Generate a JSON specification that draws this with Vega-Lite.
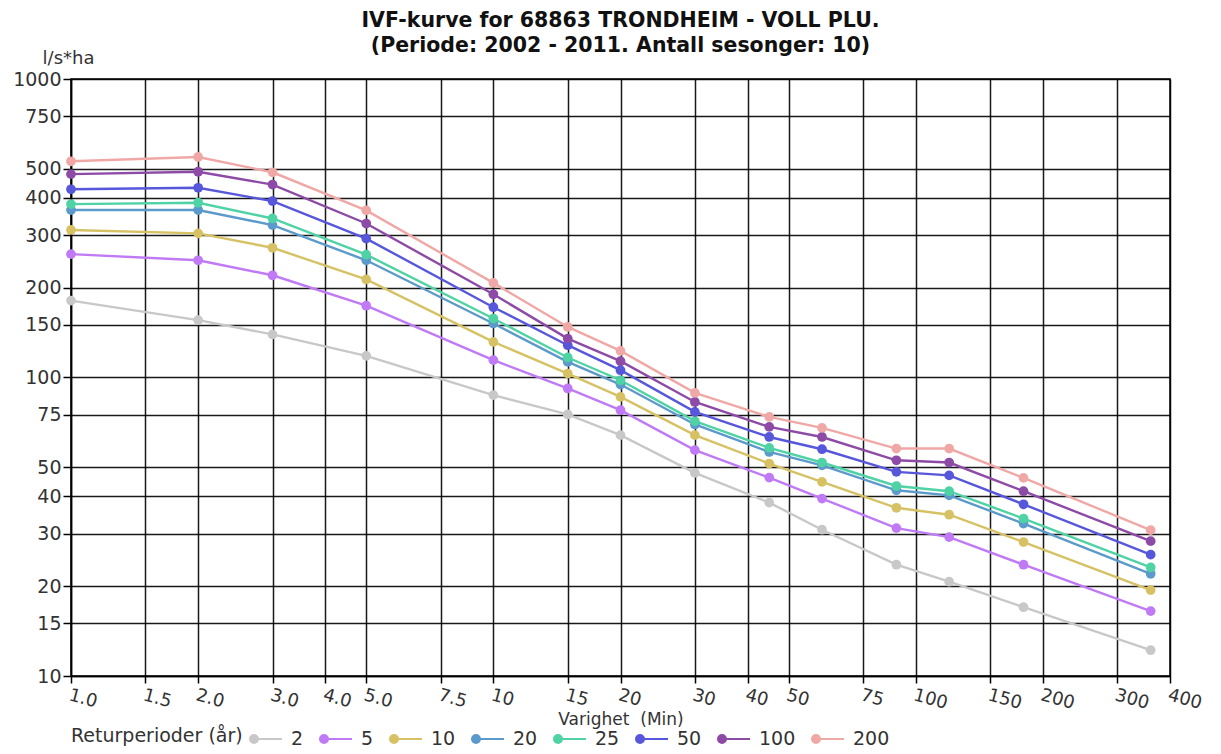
{
  "$schema": "https://vega.github.io/schema/vega-lite/v6.json",
  "width": 1099,
  "height": 597,
  "autosize": {"type": "none"},
  "padding": {"left": 71, "top": 79, "right": 51, "bottom": 78},
  "background": "white",
  "config": {"font": "DejaVu Sans", "view": {"stroke": "black", "strokeWidth": 1.5}},
  "title": {
    "text": ["IVF-kurve for 68863 TRONDHEIM - VOLL PLU.", "(Periode: 2002 - 2011. Antall sesonger: 10)"],
    "fontSize": 20.5, "fontWeight": "bold", "color": "#111", "lineHeight": 25, "anchor": "middle", "offset": 22, "dy": 29
  },
  "datasets": {
    "ivf": [
      {"d": 1, "rp": "2", "v": 181}, {"d": 2, "rp": "2", "v": 155.6}, {"d": 3, "rp": "2", "v": 139.4}, {"d": 5, "rp": "2", "v": 118.2}, {"d": 10, "rp": "2", "v": 87.3}, {"d": 15, "rp": "2", "v": 75.2}, {"d": 20, "rp": "2", "v": 64.1}, {"d": 30, "rp": "2", "v": 47.9}, {"d": 45, "rp": "2", "v": 38.1}, {"d": 60, "rp": "2", "v": 30.9}, {"d": 90, "rp": "2", "v": 23.6}, {"d": 120, "rp": "2", "v": 20.7}, {"d": 180, "rp": "2", "v": 17.0}, {"d": 360, "rp": "2", "v": 12.2},
      {"d": 1, "rp": "5", "v": 259}, {"d": 2, "rp": "5", "v": 247}, {"d": 3, "rp": "5", "v": 220}, {"d": 5, "rp": "5", "v": 174}, {"d": 10, "rp": "5", "v": 114.3}, {"d": 15, "rp": "5", "v": 91.9}, {"d": 20, "rp": "5", "v": 77.7}, {"d": 30, "rp": "5", "v": 57.1}, {"d": 45, "rp": "5", "v": 46.2}, {"d": 60, "rp": "5", "v": 39.3}, {"d": 90, "rp": "5", "v": 31.3}, {"d": 120, "rp": "5", "v": 29.2}, {"d": 180, "rp": "5", "v": 23.6}, {"d": 360, "rp": "5", "v": 16.5},
      {"d": 1, "rp": "10", "v": 312}, {"d": 2, "rp": "10", "v": 304}, {"d": 3, "rp": "10", "v": 272}, {"d": 5, "rp": "10", "v": 213}, {"d": 10, "rp": "10", "v": 131.6}, {"d": 15, "rp": "10", "v": 103.1}, {"d": 20, "rp": "10", "v": 86.1}, {"d": 30, "rp": "10", "v": 64.1}, {"d": 45, "rp": "10", "v": 51.5}, {"d": 60, "rp": "10", "v": 44.7}, {"d": 90, "rp": "10", "v": 36.6}, {"d": 120, "rp": "10", "v": 34.7}, {"d": 180, "rp": "10", "v": 28.1}, {"d": 360, "rp": "10", "v": 19.4},
      {"d": 1, "rp": "20", "v": 364}, {"d": 2, "rp": "20", "v": 364}, {"d": 3, "rp": "20", "v": 324}, {"d": 5, "rp": "20", "v": 247}, {"d": 10, "rp": "20", "v": 151.7}, {"d": 15, "rp": "20", "v": 112.8}, {"d": 20, "rp": "20", "v": 94.7}, {"d": 30, "rp": "20", "v": 69.6}, {"d": 45, "rp": "20", "v": 56.3}, {"d": 60, "rp": "20", "v": 50.8}, {"d": 90, "rp": "20", "v": 41.9}, {"d": 120, "rp": "20", "v": 40.3}, {"d": 180, "rp": "20", "v": 32.4}, {"d": 360, "rp": "20", "v": 22.0},
      {"d": 1, "rp": "25", "v": 381}, {"d": 2, "rp": "25", "v": 385}, {"d": 3, "rp": "25", "v": 341}, {"d": 5, "rp": "25", "v": 258}, {"d": 10, "rp": "25", "v": 157.6}, {"d": 15, "rp": "25", "v": 116.7}, {"d": 20, "rp": "25", "v": 97.9}, {"d": 30, "rp": "25", "v": 71.4}, {"d": 45, "rp": "25", "v": 58.1}, {"d": 60, "rp": "25", "v": 51.9}, {"d": 90, "rp": "25", "v": 43.3}, {"d": 120, "rp": "25", "v": 41.6}, {"d": 180, "rp": "25", "v": 33.7}, {"d": 360, "rp": "25", "v": 23.1},
      {"d": 1, "rp": "50", "v": 427}, {"d": 2, "rp": "50", "v": 432}, {"d": 3, "rp": "50", "v": 390}, {"d": 5, "rp": "50", "v": 292}, {"d": 10, "rp": "50", "v": 172}, {"d": 15, "rp": "50", "v": 128.3}, {"d": 20, "rp": "50", "v": 105.8}, {"d": 30, "rp": "50", "v": 76.7}, {"d": 45, "rp": "50", "v": 63.2}, {"d": 60, "rp": "50", "v": 57.5}, {"d": 90, "rp": "50", "v": 48.3}, {"d": 120, "rp": "50", "v": 47.0}, {"d": 180, "rp": "50", "v": 37.6}, {"d": 360, "rp": "50", "v": 25.5},
      {"d": 1, "rp": "100", "v": 480}, {"d": 2, "rp": "100", "v": 489}, {"d": 3, "rp": "100", "v": 443}, {"d": 5, "rp": "100", "v": 328}, {"d": 10, "rp": "100", "v": 190}, {"d": 15, "rp": "100", "v": 135}, {"d": 20, "rp": "100", "v": 113.4}, {"d": 30, "rp": "100", "v": 82.8}, {"d": 45, "rp": "100", "v": 68.3}, {"d": 60, "rp": "100", "v": 63.2}, {"d": 90, "rp": "100", "v": 52.8}, {"d": 120, "rp": "100", "v": 51.9}, {"d": 180, "rp": "100", "v": 41.6}, {"d": 360, "rp": "100", "v": 28.3},
      {"d": 1, "rp": "200", "v": 530}, {"d": 2, "rp": "200", "v": 548}, {"d": 3, "rp": "200", "v": 487}, {"d": 5, "rp": "200", "v": 363}, {"d": 10, "rp": "200", "v": 207.5}, {"d": 15, "rp": "200", "v": 147.7}, {"d": 20, "rp": "200", "v": 122.8}, {"d": 30, "rp": "200", "v": 88.8}, {"d": 45, "rp": "200", "v": 73.8}, {"d": 60, "rp": "200", "v": 67.8}, {"d": 90, "rp": "200", "v": 57.8}, {"d": 120, "rp": "200", "v": 57.8}, {"d": 180, "rp": "200", "v": 46.1}, {"d": 360, "rp": "200", "v": 30.8}
    ]
  },
  "data": {"name": "ivf"},
  "encoding": {
    "x": {
      "field": "d", "type": "quantitative",
      "scale": {"type": "log", "domain": [1, 400], "nice": false},
      "axis": {
        "values": [1, 1.5, 2, 3, 4, 5, 7.5, 10, 15, 20, 30, 40, 50, 75, 100, 150, 200, 300, 400],
        "labelExpr": "datum.value < 10 ? format(datum.value, '.1f') : format(datum.value, 'd')",
        "labelAngle": 15, "labelAlign": "left", "labelBaseline": "top", "labelFontSize": 18, "labelColor": "#333",
        "labelPadding": 3, "labelFlush": false, "labelOverlap": false,
        "grid": true, "gridColor": "#000", "gridWidth": 1.5, "gridOpacity": 0.9,
        "domainColor": "#000", "domainWidth": 1.5, "tickColor": "#000", "tickSize": 7, "tickWidth": 1.5,
        "title": "Varighet \u00a0(Min)", "titleFontSize": 17, "titleFontWeight": "normal", "titleColor": "#333",
        "titleY": 43, "titleBaseline": "middle"
      }
    },
    "y": {
      "field": "v", "type": "quantitative",
      "scale": {"type": "log", "domain": [10, 1000], "nice": false},
      "axis": {
        "values": [10, 15, 20, 30, 40, 50, 75, 100, 150, 200, 300, 400, 500, 750, 1000],
        "format": "d", "labelFontSize": 19, "labelColor": "#333", "labelPadding": 2,
        "grid": true, "gridColor": "#000", "gridWidth": 1.5, "gridOpacity": 0.9,
        "domainColor": "#000", "domainWidth": 1.5, "tickColor": "#000", "tickSize": 8, "tickWidth": 1.5,
        "title": "l/s*ha", "titleAngle": 0, "titleX": -3, "titleY": -21, "titleAlign": "center",
        "titleBaseline": "middle", "titleFontSize": 18, "titleFontWeight": "normal", "titleColor": "#333"
      }
    },
    "color": {
      "field": "rp", "type": "nominal",
      "sort": ["2", "5", "10", "20", "25", "50", "100", "200"],
      "scale": {
        "domain": ["2", "5", "10", "20", "25", "50", "100", "200"],
        "range": ["#c8c8c8", "#c07af5", "#d6c264", "#5b9acb", "#4fd3a5", "#5757dc", "#8d4aa6", "#f0a8a6"]
      },
      "legend": {
        "orient": "none", "legendX": 0, "legendY": 643, "direction": "horizontal", "columns": 8,
        "title": "Returperioder (år)", "titleOrient": "left", "titleFontSize": 19, "titleFontWeight": "normal",
        "titleColor": "#333", "titleBaseline": "middle", "titleAnchor": "middle", "labelFontSize": 19, "labelColor": "#333",
        "symbolType": "M-0.75,0L1,0M-1,0A0.25,0.25 0 1,0 -0.5,0A0.25,0.25 0 1,0 -1,0Z",
        "symbolSize": 1024, "symbolStrokeWidth": 2, "labelOffset": 8, "columnPadding": 12, "titlePadding": 6,
        "symbolOpacity": 1
      }
    }
  },
  "layer": [
    {"mark": {"type": "line", "strokeWidth": 2.4}},
    {"mark": {"type": "point", "filled": true, "size": 95, "opacity": 1}}
  ]
}
